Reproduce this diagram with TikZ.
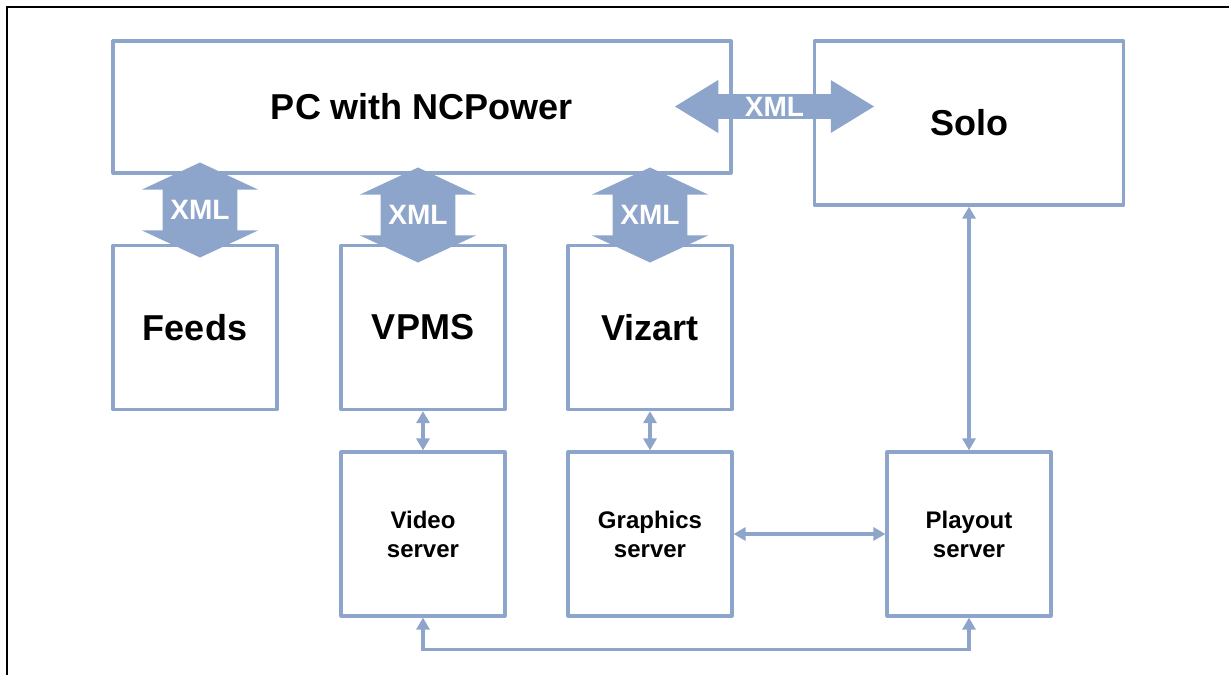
\documentclass[tikz,border=0pt]{standalone}
\usepackage{fontspec}
\setmainfont{Liberation Sans}
\usetikzlibrary{arrows.meta,shapes.arrows}
\definecolor{linkblue}{RGB}{142,165,203}

\begin{document}
\begin{tikzpicture}[x=0.5pt,y=-0.5pt,
 box/.style ={draw=linkblue,line width=1.6pt,line join=round,minimum width=82pt,minimum height=82pt,inner sep=0pt,align=center,font=\fontsize{12}{14.5}\selectfont\bfseries},
 bigbox/.style ={box,font=\fontsize{18}{21.6}\selectfont\bfseries},
 xml/.style ={double arrow,fill=linkblue,text=white,inner sep=0pt,font=\fontsize{14}{17}\selectfont\bfseries},
 link/.style ={{Triangle[length=6pt,width=6.5pt]}-{Triangle[length=6pt,width=6.5pt]},draw=linkblue,line width=1.7pt},
 frame/.style ={draw=black,line width=1pt}
 ]
\useasboundingbox (0,0) rectangle (1229,675);
%draw frame
\draw[frame] (7,675) -- (7,7) -- (1229,7);
%draw PC box
\node[bigbox,minimum width=309pt,minimum height=66pt] (pc) at (422,107) {PC with NCPower};
%draw Solo box
\node[bigbox,minimum width=154.5pt] (solo) at (969,123) {Solo};
%draw upper row
\node[bigbox] (feeds) at (195,327.5) {Feeds};
\node[bigbox] (vpms) at (423,327.5) {VPMS};
\node[bigbox] (vizart) at (650,327.5) {Vizart};
%draw servers
\node[box] (video) at (423,534) {Video\\server};
\node[box] (graphics) at (650,534) {Graphics\\server};
\node[box] (playout) at (969,534) {Playout\\server};
%draw XML arrows
\node[xml,shape border rotate=90,inner sep=3.75pt,minimum height=47.5pt,minimum width=58pt,double arrow head extend=10.25pt,double arrow tip angle=130] (xmlfeeds) at (200,210) {XML};
\node[xml,shape border rotate=90,inner sep=3.75pt,minimum height=47.5pt,minimum width=58pt,double arrow head extend=10.25pt,double arrow tip angle=130] (xmlvpms) at (418,215) {XML};
\node[xml,shape border rotate=90,inner sep=3.75pt,minimum height=47.5pt,minimum width=58pt,double arrow head extend=10.25pt,double arrow tip angle=130] (xmlvizart) at (650,215) {XML};
\node[xml,minimum height=99.5pt,minimum width=26.5pt,double arrow head extend=5.75pt,double arrow tip angle=63] (xmlsolo) at (774.5,106.5) {XML};
%draw links
\draw[link] (vpms) -- (video);
\draw[link] (vizart) -- (graphics);
\draw[link] (solo) -- (playout);
\draw[link] (graphics) -- (playout);
\draw[link] (video.south) -- ++(0,32) -| (playout.south);
\end{tikzpicture}
\end{document}
